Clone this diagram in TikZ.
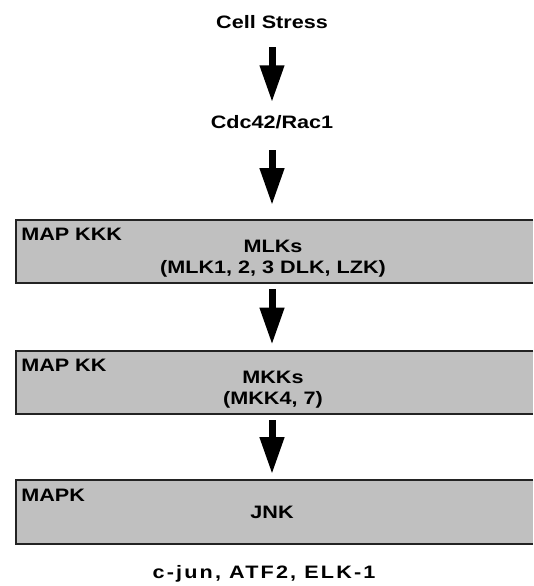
\documentclass[tikz,border=0pt]{standalone}
\usepackage{fontspec}
\newfontfamily\pathfont{Liberation Sans}[FakeStretch=1.2]
\newfontfamily\widefont{Liberation Sans}[FakeStretch=1.2,LetterSpace=12]
\usetikzlibrary{arrows.meta,positioning}
\definecolor{boxgray}{RGB}{192,192,192}
\definecolor{boxline}{RGB}{35,35,35}
\tikzset{
  stage/.style={inner sep=0pt, font=\pathfont\bfseries\fontsize{13.5}{15.75}\selectfont},
  single/.style={stage, text height=9.6pt, text depth=0pt},
  kinase/.style={draw=none, fill=boxgray, minimum width=387.75pt, minimum height=47.25pt, inner sep=0pt},
  flow/.style={line width=5.25pt, -{Triangle[width=17.25pt,length=27.75pt]}},
}
\begin{document}
\begin{tikzpicture}[x=0.75pt,y=-0.75pt]
       \useasboundingbox (0,0) rectangle (533,586);
       \node[single,anchor=base] (stress) at (272,28) {Cell Stress};
       \node[single,anchor=base] (rac) at (272,128) {Cdc42/Rac1};
       \node[kinase] (kkk) at (274.5,251.5) {};
       \node[kinase] (kk) at (274.5,382.5) {};
       \node[kinase] (mapk) at (274.5,512) {};
       \foreach \b in {kkk,kk,mapk}
         \draw[boxline,line width=1.2pt] (\b.north east) -- (\b.north west) -- (\b.south west) -- (\b.south east);
         \node[single,anchor=base west] (kkklab) at (21,240) {MAP KKK};
         \node[stage,anchor=base,align=center] (mlks) at (273,273) {MLKs\\(MLK1, 2, 3 DLK, LZK)};
         \node[single,anchor=base west] (kklab) at (21,371) {MAP KK};
         \node[stage,anchor=base,align=center] (mkks) at (273,404) {MKKs\\(MKK4, 7)};
         \node[single,anchor=base west] (mapklab) at (21,501) {MAPK};
         \node[single,anchor=base] (jnk) at (272,518) {JNK};
         \node[single,anchor=base,font=\widefont\bfseries\fontsize{13.5}{15.75}\selectfont] (targets) at (264,578) {c-jun, ATF2, ELK-1};
       \draw[flow,shorten <=14.25pt,shorten >=9.5pt] (stress) -- (rac);
       \draw[flow,shorten <=16.5pt,shorten >=10.9pt] (rac) -- (kkk.north -| rac);
       \draw[flow,shorten <=4.5pt,shorten >=4.5pt] (kkk.south -| rac) -- (kk.north -| rac);
       \draw[flow,shorten <=4.5pt,shorten >=4.5pt] (kk.south -| rac) -- (mapk.north -| rac);
     \end{tikzpicture}
\end{document}
